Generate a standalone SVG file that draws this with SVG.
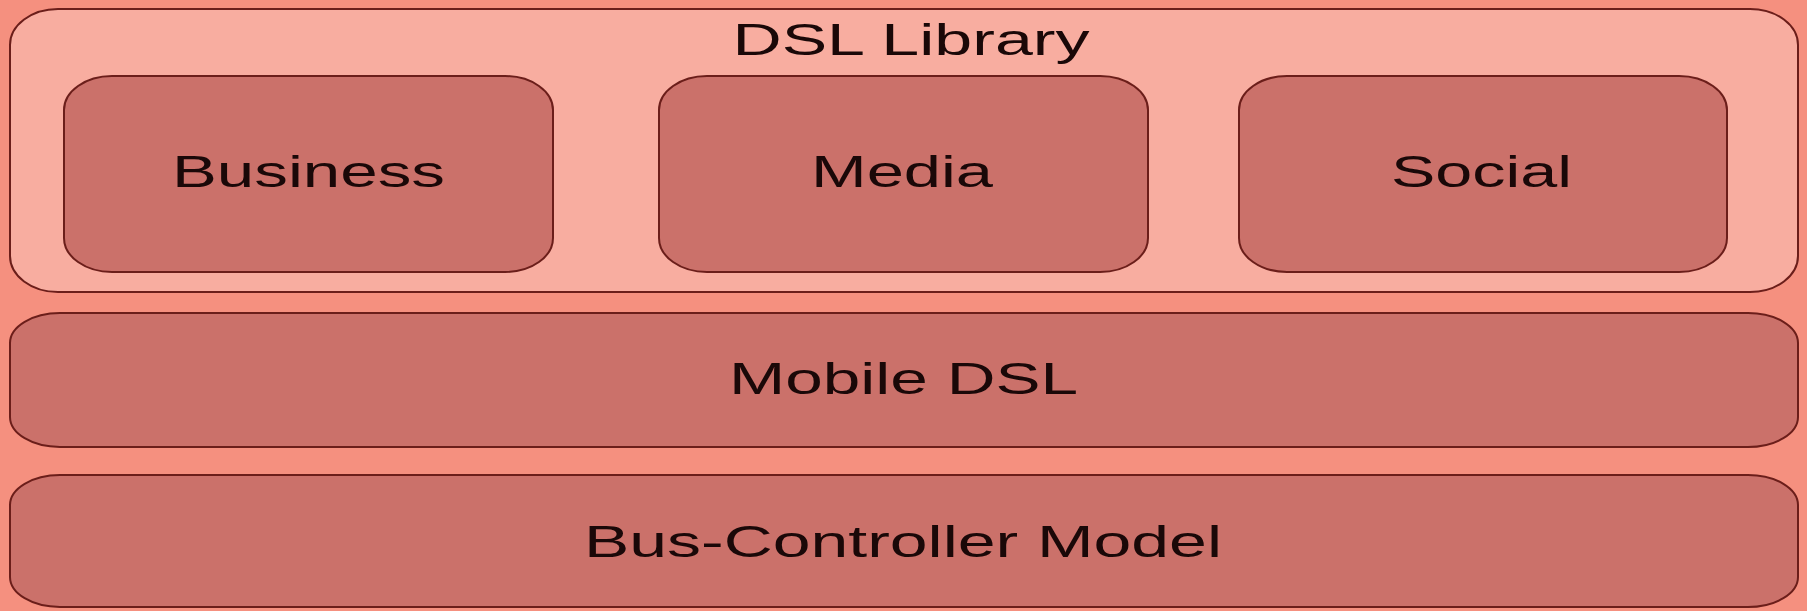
<svg xmlns="http://www.w3.org/2000/svg" width="1807" height="611" viewBox="0 0 1807 611">
<style>
.bg{fill:#F5907F}
.container{fill:#F8ADA0;stroke:#6B1E1A;stroke-width:2}
.box{fill:#CB716A;stroke:#6B1E1A;stroke-width:2}
.lbl{font-family:"Liberation Sans",Arial,sans-serif;font-size:44px;fill:#1A0808;text-anchor:middle}
</style>
<rect class="bg" x="0" y="0" width="1807" height="611"/>
<g id="dsl-library">
<rect class="container" x="10" y="9" width="1788" height="283" rx="48" ry="36"/>
<text class="lbl" x="911" y="55" textLength="357" lengthAdjust="spacingAndGlyphs">DSL Library</text>
</g>
<g id="business">
<rect class="box" x="64" y="76" width="489" height="196" rx="48" ry="34"/>
<text class="lbl" x="308.5" y="187" textLength="273" lengthAdjust="spacingAndGlyphs">Business</text>
</g>
<g id="media">
<rect class="box" x="659" y="76" width="489" height="196" rx="48" ry="34"/>
<text class="lbl" x="902" y="187" textLength="182" lengthAdjust="spacingAndGlyphs">Media</text>
</g>
<g id="social">
<rect class="box" x="1239" y="76" width="488" height="196" rx="48" ry="34"/>
<text class="lbl" x="1481.5" y="187" textLength="181" lengthAdjust="spacingAndGlyphs">Social</text>
</g>
<g id="mobile-dsl">
<rect class="box" x="10" y="313" width="1788" height="134" rx="50" ry="30"/>
<text class="lbl" x="903.5" y="394" textLength="349" lengthAdjust="spacingAndGlyphs">Mobile DSL</text>
</g>
<g id="bus-controller-model">
<rect class="box" x="10" y="475" width="1788" height="132" rx="50" ry="30"/>
<text class="lbl" x="903" y="557" textLength="638" lengthAdjust="spacingAndGlyphs">Bus-Controller Model</text>
</g>
<g id="connectors"></g>
</svg>
